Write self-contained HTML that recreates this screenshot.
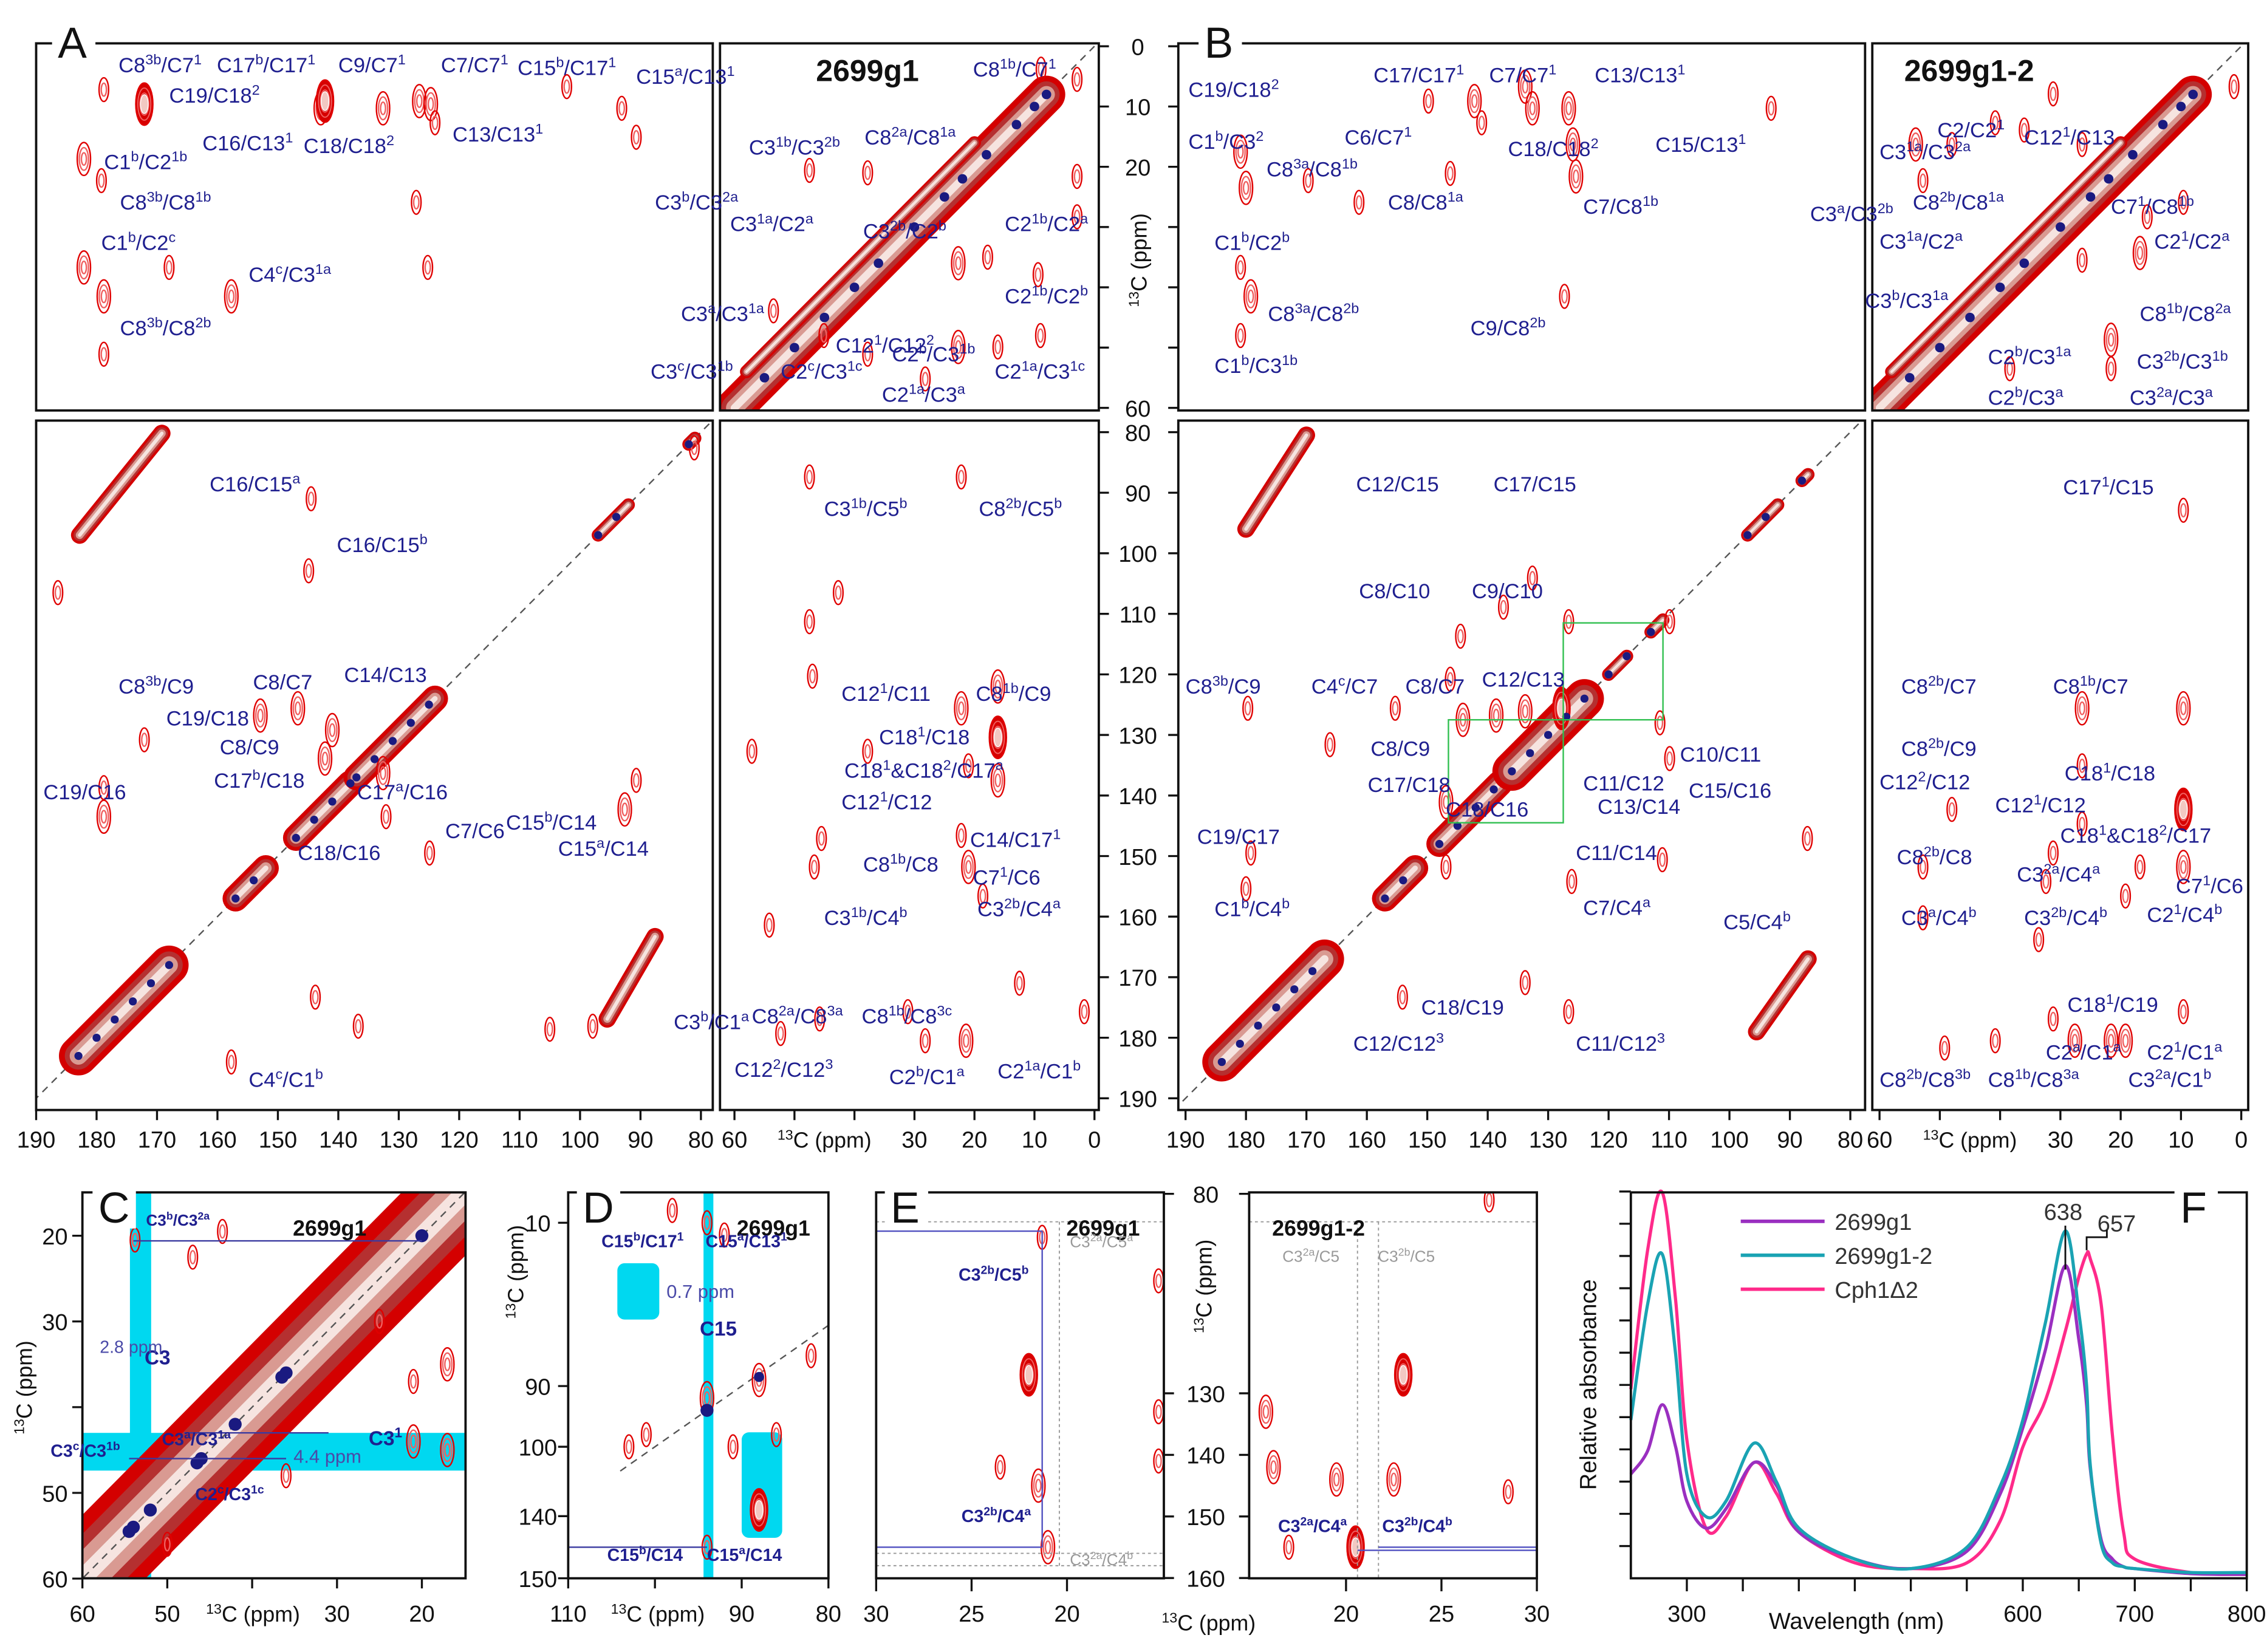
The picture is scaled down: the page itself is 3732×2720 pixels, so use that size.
<!DOCTYPE html>
<html><head><meta charset="utf-8"><title>NMR figure</title>
<style>html,body{margin:0;padding:0;background:#fff}svg{display:block}</style></head>
<body>
<svg id="fig" xmlns="http://www.w3.org/2000/svg" width="3732" height="2720" viewBox="0 0 1568 1143" preserveAspectRatio="none" font-family="'Liberation Sans', sans-serif">
<rect x="0" y="0" width="1568" height="1143" fill="#fff"/>
</svg>
<script>
// ===== DATA =====
const aTLPeaks=[[178.8,7.2,1],[172.1,9.6,3],[182.1,18.7,2],[179.2,22.3,1],[182.1,36.7,2],[178.8,41.5,2],[178.8,51.1,1],[168,36.7,1],[157.7,41.5,2],[142.9,10.3,2],[142.2,9.1,3],[132.6,10.3,2],[126.6,9.1,2],[124.7,9.6,2],[124,12.7,1],[102.2,6.7,1],[93.1,10.3,1],[90.7,15.1,1],[127.1,25.9,1],[125.2,36.7,1]];
const aTRPeaks=[[47.5,20.6,1],[53.5,43.9,1],[37.8,51.1,1],[28.2,55.2,1],[22.7,49.9,2],[22.7,36,2],[17.8,35,1],[16.1,49.9,1],[2.9,21.6,1],[2.9,28.3,1],[9.4,37.9,1],[9,48,1],[45.1,48,1],[8.9,3.8,1],[2.9,5.5,1],[37.8,21,1]];
const aDiagDots=[55,50,45,40,36,30,25,22,18,13,10,8];
const aBLPeaks=[[152.9,126.8,2],[146.7,125.6,2],[141,129.2,2],[142.2,133.9,2],[172.1,130.8,1],[178.8,138.7,1],[178.8,143.5,2],[132.6,136.3,2],[132.1,143.5,1],[124.9,149.5,1],[92.6,142.3,2],[186.4,106.5,1],[144.5,91,1],[144.9,102.9,1],[143.8,173.3,1],[157.7,184,1],[136.7,178.1,1],[105,178.6,1],[97.9,178.1,1],[81.1,82.6,1],[90.7,137.5,1]];
const aBLDiag=[[183,168,3],[157,152,2],[147,138,2],[137,124,2],[97,92,1],[82,81,1]];
const aBLStreaks=[[182.8,97,169.2,80.2],[95.5,176.9,87.6,163.3]];
const aBRPeaks=[[47.5,87.4,1],[22.2,87.4,1],[22.2,125.6,2],[16.1,122,2],[16.1,130.4,3],[16.1,137.5,2],[21,135.1,1],[22.2,146.6,1],[21,151.8,2],[18.6,156.6,1],[45.5,147.1,1],[46.7,151.8,1],[54.2,161.4,1],[52.3,179.3,1],[45.8,176.9,1],[31.1,175.7,1],[28.2,180.5,1],[21.4,180.5,2],[12.5,171,1],[1.7,175.7,1],[57.1,132.7,1],[47,120.3,1],[37.8,132.7,1],[47.5,111.3,1],[42.7,106.5,1]];
const bTLPeaks=[[180.9,17.5,2],[180,23.5,2],[180.9,36.7,1],[179.2,41.5,2],[180.9,48,1],[149.8,9.1,1],[142.2,9.1,2],[141,12.7,1],[133.8,6.7,2],[132.6,10.3,2],[126.6,10.3,2],[125.9,16.3,2],[125.4,21.6,2],[146.2,21.1,1],[127.3,41.5,1],[93.1,10.3,1],[161.3,25.9,1],[169.7,22.3,1]];
const bTRPeaks=[[26.4,35.5,1],[21.6,48.7,2],[21.6,53.5,1],[15.6,28.3,1],[16.8,34.3,2],[9.6,25.9,1],[26.4,16.3,1],[48,16.3,1],[40.8,12.7,1],[36,13.9,1],[31.2,7.9,1],[54,16.3,2],[52.8,22.3,1],[38.4,53.5,1],[1.2,6.7,1]];
const bBLPeaks=[[126.6,111.3,1],[109.9,111.3,1],[127.8,125.6,3],[133.8,126.1,2],[138.6,126.8,2],[144.1,127.5,2],[146.2,120.8,1],[144.5,113.7,1],[155.3,125.6,1],[179.7,125.6,1],[166.1,131.6,1],[111.5,128,1],[109.9,133.9,1],[126.1,154.2,1],[111.1,150.6,1],[87.1,147.1,1],[133.8,170.9,1],[126.6,175.7,1],[154.1,173.3,1],[146.9,151.8,1],[146.9,141.1,2],[179.2,149.5,1],[180,155.4,1],[137.4,108.9,1],[132.6,104.1,1]];
const bBLDiag=[[184,167,3],[157,152,2],[148,138,2],[136,124,3],[120,117,1],[113,111,1],[97,92,1],[88,87,1]];
const bBLStreaks=[[180,96,170,80.5],[95.5,179,87,167]];
const bBRPeaks=[[9.6,92.9,1],[9.6,125.6,2],[26.4,125.6,2],[26.4,135.1,1],[26.4,144.7,1],[9.6,142.3,3],[9.6,151.8,2],[16.8,151.8,1],[19.2,156.6,1],[52.8,151.8,1],[52.8,160.2,1],[32.4,154.2,1],[31.2,149.5,1],[31.2,176.9,1],[19.2,180.5,2],[27.6,180.5,2],[40.8,180.5,1],[49.2,181.7,1],[9.6,175.7,1],[33.6,163.8,1],[48,142.3,1],[21.6,180.5,2]];
const cPeaks=[[53.8,20.5,1],[47,22.5,1],[43.5,19.5,1],[21,44,2],[17,45,2],[17,35,2],[21,37,1],[36,48,1],[50,56,1],[25,30,1]];
const cDiagDots=[54.5,54,52,46.5,46,42,36.5,36,20];
const dPeaks=[[94,10,1],[94,92,2],[94,145,1],[88,89,2],[82,85,1],[101,98,1],[103,100,1],[98,8,1],[107,8,1],[91,100,1],[86,98,1],[88,139,3],[92,12,1]];
const eLeftPeaks=[[22,127,3],[21.3,87,1],[21.5,145,2],[23.5,142,1],[21,155,2],[15.2,94,1],[15.2,133,1],[15.2,141,1]];
const eRightPeaks=[[23,127,3],[15.8,133,2],[16.2,142,2],[19.5,144,2],[22.5,144,2],[20.5,155,3],[17,155,1],[28.5,146,1],[27.5,81,1]];
const wavelengths=[250,265,278,290,300,317,335,360,380,400,450,500,550,580,600,620,638,650,657,660,670,680,690,700,750,800];
const absG1=[.27,.33,.45,.34,.2,.13,.18,.30,.24,.12,.05,.025,.07,.22,.39,.59,.81,.62,.45,.29,.1,.05,.03,.025,.012,.01];
const absG12=[.41,.71,.84,.58,.27,.16,.2,.35,.25,.13,.05,.025,.08,.24,.41,.66,.9,.69,.5,.3,.09,.04,.03,.025,.015,.015];
const absCph=[.49,.85,1.0,.72,.36,.13,.16,.30,.22,.12,.04,.025,.04,.15,.34,.46,.64,.78,.84,.83,.71,.37,.12,.05,.015,.01];
const fXTicks=[300,600,700,800];
const seriesNames=["2699g1","2699g1-2","Cph1\u03942"];

// ===== helpers =====
const NS="http://www.w3.org/2000/svg";
const svg=document.getElementById("fig");
function mk(tag,attrs,parent){const e=document.createElementNS(NS,tag);for(const k in attrs)e.setAttribute(k,attrs[k]);(parent||svg).appendChild(e);return e;}
const BLUE="#1f1f8f",RED="#e00000";

const aXL=p=>25+(190-p)*4.18, aXR=p=>508+(60-p)*4.15;
const yTop=p=>32+p*4.17, yBot=p=>299+(p-80)*4.19;
const bXL=p=>820+(190-p)*4.18, bXR=p=>1300+(60-p)*4.17;
const cX=p=>57+(60-p)*5.87, cY=p=>855+(p-20)*5.93;
const dX=p=>393+(110-p)*6;
const dY=p=>p<50?846+(p-10)*4.25:(p<120?959+(p-90)*4.2:1049+(p-140)*4.3);
const e1X=p=>606+(30-p)*13.2, e2X=p=>931+(p-20)*13.2;
const eY=p=>p<110?826+(p-80)*4.3:964+(p-130)*4.26;
const fX=w=>1128+(w-250)/550*426, fY=v=>1092-v*267;

let clipId=0;
function clipGroup(x,y,w,h,name){
  const cp=mk("clipPath",{id:"cp"+(++clipId)});
  mk("rect",{x:x,y:y,width:w,height:h},cp);
  const g=mk("g",{"clip-path":"url(#cp"+clipId+")"});
  
  
  return g;
}
function frame(x,y,w,h,name){
  const r=mk("rect",{x:x,y:y,width:w,height:h,fill:"none",stroke:"#111","stroke-width":1.6});
  
  
}
function peak(g,x,y,s){
  const grp=mk("g",{},g);
  
  
  const rx=2+s*1.3, ry=5+s*3.2;
  for(let i=0;i<s+1;i++){
    const f=1-i/(s+1.2);
    mk("ellipse",{cx:x,cy:y,rx:rx*f,ry:ry*f,fill:i===0&&s>=3?"#d60000":"none",stroke:i===0?RED:"#f06060","stroke-width":s>=3&&i>0?0.8:1},grp);
  }
  if(s>=3) mk("ellipse",{cx:x,cy:y,rx:rx*0.45,ry:ry*0.45,fill:"#f2c8c2",stroke:"#fff","stroke-width":0.6},grp);
}
function band(g,x1,y1,x2,y2,w,name){
  const grp=mk("g",{},g);
  
  
  mk("line",{x1:x1,y1:y1,x2:x2,y2:y2,stroke:"#d40000","stroke-width":w,"stroke-linecap":"round"},grp);
  mk("line",{x1:x1,y1:y1,x2:x2,y2:y2,stroke:"#b53030","stroke-width":w*0.7,"stroke-linecap":"round"},grp);
  mk("line",{x1:x1,y1:y1,x2:x2,y2:y2,stroke:"#d99a92","stroke-width":w*0.45,"stroke-linecap":"round"},grp);
  mk("line",{x1:x1,y1:y1,x2:x2,y2:y2,stroke:"#f6e4e0","stroke-width":w*0.2,"stroke-linecap":"round"},grp);
}
function diagLine(g,x1,y1,x2,y2){
  const l=mk("line",{x1:x1,y1:y1,x2:x2,y2:y2,stroke:"#555","stroke-width":1,"stroke-dasharray":"5,4"},g);
  
  
}
function dot(g,x,y,r){
  const c=mk("circle",{cx:x,cy:y,r:r||3.3,fill:"#1a1a80"},g);
  
  
}
function label(str,x,y,opt){
  opt=opt||{};
  const t=mk("text",{x:x,y:y,"font-size":opt.size||14.5,fill:opt.color||BLUE,"font-weight":opt.bold?"bold":"normal","text-anchor":opt.anchor||"start"});
  
  
  let i=0,buf="",sup=false;
  const flush=()=>{if(!buf)return;const ts=mk("tspan",{},t);if(sup){ts.setAttribute("font-size","68%");ts.setAttribute("baseline-shift","super");}ts.textContent=buf;buf="";};
  while(i<str.length){const ch=str[i];
    if(ch==="^"){flush();sup=true;}
    else if(sup&&(ch==="/"||ch==="&"||ch===" ")){flush();sup=false;buf+=ch;}
    else buf+=ch; i++;}
  flush();
  return t;
}
function bigLetter(ch,x,y){
  const r=mk("rect",{x:x-4,y:y-26,width:30,height:30,fill:"#fff"});
  
  
  const t=mk("text",{x:x,y:y,"font-size":30,fill:"#111"});
  
  
  t.textContent=ch;
}
function txt(s,x,y,size,opts){
  opts=opts||{};
  const t=mk("text",{x:x,y:y,"font-size":size,fill:opts.color||"#111","text-anchor":opts.anchor||"middle","font-weight":opts.bold?"bold":"normal"});
  if(opts.rot) t.setAttribute("transform","rotate(-90 "+x+" "+y+")");
  
  
  t.textContent=s;return t;
}
function tick(x1,y1,x2,y2,w){
  const l=mk("line",{x1:x1,y1:y1,x2:x2,y2:y2,stroke:"#111","stroke-width":w||1.4});
  
  
}

// ===== PANEL A & B =====
function nmrPanel(P){
  let g=clipGroup(P.x0,30,P.xm-P.x0,254,P.id+'-top-left-region');
  P.tl.forEach(p=>peak(g,P.xL(p[0]),yTop(p[1]),p[2]));
  g=clipGroup(P.xm+5,30,P.x1-P.xm-5,254,P.id+'-top-right-region');
  diagLine(g,P.xR(62),yTop(62),P.xR(0),yTop(0));
  band(g,P.xR(60),yTop(60),P.xR(8),yTop(8),26,'diagonal-band');
  band(g,P.xR(58),yTop(54),P.xR(20),yTop(16),9,'diagonal-band-secondary');
  P.tr.forEach(p=>peak(g,P.xR(p[0]),yTop(p[1]),p[2]));
  P.dd.forEach(v=>dot(g,P.xR(v),yTop(v)));
  g=clipGroup(P.x0,291,P.xm-P.x0,477,P.id+'-bottom-left-region');
  diagLine(g,P.xL(192),yBot(192),P.xL(78),yBot(78));
  P.bld.forEach(s=>band(g,P.xL(s[0]),yBot(s[0]),P.xL(s[1]),yBot(s[1]),s[2]*9,'diagonal-band'));
  P.bls.forEach(s=>band(g,P.xL(s[0]),yBot(s[1]),P.xL(s[2]),yBot(s[3]),12,'off-diagonal-streak'));
  P.bl.forEach(p=>peak(g,P.xL(p[0]),yBot(p[1]),p[2]));
  P.bld.forEach(s=>{for(let v=s[0];v>=s[1];v-=3)dot(g,P.xL(v),yBot(v),2.8);});
  g=clipGroup(P.xm+5,291,P.x1-P.xm-5,477,P.id+'-bottom-right-region');
  P.br.forEach(p=>peak(g,P.xR(p[0]),yBot(p[1]),p[2]));
  frame(P.x0,30,P.xm-P.x0,254,P.id+'-frame-tl');
  frame(P.xm+5,30,P.x1-P.xm-5,254,P.id+'-frame-tr');
  frame(P.x0,291,P.xm-P.x0,477,P.id+'-frame-bl');
  frame(P.xm+5,291,P.x1-P.xm-5,477,P.id+'-frame-br');
  for(let v=190;v>=80;v-=10){const x=P.xL(v);if(x>P.xm+1)continue;tick(x,768,x,775);txt(String(v),x,794,16,{name:'x-tick-label'});}
  for(let v=60;v>=0;v-=10){const x=P.xR(v);tick(x,768,x,775);if(v===50||v===40)continue;txt(String(v),x,794,16,{name:'x-tick-label'});}
  const xt=txt("",P.xR(45),794,15,{name:'x-axis-title'});
  const s1=mk("tspan",{"font-size":"65%","baseline-shift":"super"},xt);s1.textContent="13";
  const s2=mk("tspan",{},xt);s2.textContent="C (ppm)";
}
const PA={id:'panel-a',x0:25,xm:493,x1:760,xL:aXL,xR:aXR,tl:aTLPeaks,tr:aTRPeaks,dd:aDiagDots,bl:aBLPeaks,bld:aBLDiag,bls:aBLStreaks,br:aBRPeaks};
const PB={id:'panel-b',x0:815,xm:1290,x1:1555,xL:bXL,xR:bXR,tl:bTLPeaks,tr:bTRPeaks,dd:aDiagDots,bl:bBLPeaks,bld:bBLDiag,bls:bBLStreaks,br:bBRPeaks};
nmrPanel(PA);nmrPanel(PB);

[[bXL(146.5),yBot(127.5),bXL(127.5),yBot(144.5)],[bXL(127.5),yBot(111.5),bXL(111),yBot(127.5)]].forEach(r=>{
  const e=mk("rect",{x:r[0],y:r[1],width:r[2]-r[0],height:r[3]-r[1],fill:"none",stroke:"#2fbf4f","stroke-width":1});
  
  
});

for(let v=0;v<=60;v+=10){const y=yTop(v);tick(760,y,767,y);tick(808,y,815,y);if(v>=30&&v<=50)continue;txt(String(v),787,y+6,16,{name:'y-tick-label'});}
for(let v=80;v<=190;v+=10){const y=yBot(v);tick(760,y,767,y);tick(808,y,815,y);txt(String(v),787,y+6,16,{name:'y-tick-label'});}
(function(){const t=txt("",793,180,15,{rot:true,name:'y-axis-title'});const a=mk("tspan",{"font-size":"65%","baseline-shift":"super"},t);a.textContent="13";const b=mk("tspan",{},t);b.textContent="C (ppm)";})();

txt("2699g1",600,56,21,{bold:true,name:'sample-title'});
txt("2699g1-2",1362,56,21,{bold:true,name:'sample-title'});
bigLetter("A",40,40);bigLetter("B",833,40);

[["C8^3b/C7^1",82,50],["C17^b/C17^1",150,50],["C9/C7^1",234,50],["C7/C7^1",305,50],["C15^b/C17^1",358,52],["C15^a/C13^1",440,58],["C19/C18^2",117,71],["C16/C13^1",140,104],["C18/C18^2",210,106],["C13/C13^1",313,98],["C1^b/C2^1b",72,117],["C8^3b/C8^1b",83,145],["C1^b/C2^c",70,173],["C4^c/C3^1a",172,195],["C8^3b/C8^2b",83,232],
 ["C8^1b/C7^1",673,53],["C8^2a/C8^1a",598,100],["C3^1b/C3^2b",518,107],["C3^b/C3^2a",453,145],["C3^1a/C2^a",505,160],["C3^2b/C2^b",597,165],["C2^1b/C2^a",695,160],["C3^a/C3^1a",471,222],["C2^1b/C2^b",695,210],["C12^1/C12^2",578,244],["C3^c/C3^1b",450,262],["C2^c/C3^1c",540,262],["C2^b/C3^1b",617,250],["C2^1a/C3^1c",688,262],["C2^1a/C3^a",610,278],
 ["C16/C15^a",145,340],["C16/C15^b",233,382],["C8^3b/C9",82,480],["C8/C7",175,477],["C14/C13",238,472],["C19/C18",115,502],["C8/C9",152,522],["C17^b/C18",148,545],["C17^a/C16",247,553],["C19/C16",30,553],["C15^b/C14",350,574],["C15^a/C14",386,592],["C7/C6",308,580],["C18/C16",206,595],["C4^c/C1^b",172,752],
 ["C3^1b/C5^b",570,357],["C8^2b/C5^b",677,357],["C12^1/C11",582,485],["C8^1b/C9",675,485],["C18^1/C18",608,515],["C18^1&C18^2/C17^a",584,538],["C12^1/C12",582,560],["C14/C17^1",671,586],["C8^1b/C8",597,603],["C7^1/C6",673,612],["C3^2b/C4^a",676,634],["C3^1b/C4^b",570,640],["C8^2a/C8^3a",520,708],["C8^1b/C8^3c",596,708],["C3^b/C1^a",466,712],["C12^2/C12^3",508,745],["C2^b/C1^a",615,750],["C2^1a/C1^b",690,746]
].forEach(l=>label(l[0],l[1],l[2]));
[["C19/C18^2",822,67],["C17/C17^1",950,57],["C7/C7^1",1030,57],["C13/C13^1",1103,57],["C6/C7^1",930,100],["C18/C18^2",1043,108],["C15/C13^1",1145,105],["C1^b/C3^2",822,103],["C8^3a/C8^1b",876,122],["C8/C8^1a",960,145],["C7/C8^1b",1095,148],["C1^b/C2^b",840,173],["C8^3a/C8^2b",877,222],["C9/C8^2b",1017,232],["C1^b/C3^1b",840,258],
 ["C2/C2^1",1340,95],["C12^1/C13",1400,100],["C3^1a/C3^2a",1300,110],["C8^2b/C8^1a",1323,145],["C3^a/C3^2b",1252,153],["C7^1/C8^1b",1460,148],["C3^1a/C2^a",1300,172],["C2^1/C2^a",1490,172],["C3^b/C3^1a",1290,213],["C8^1b/C8^2a",1480,222],["C2^b/C3^1a",1375,252],["C3^2b/C3^1b",1478,255],["C2^b/C3^a",1375,280],["C3^2a/C3^a",1473,280],
 ["C12/C15",938,340],["C17/C15",1033,340],["C8/C10",940,414],["C9/C10",1018,414],["C8^3b/C9",820,480],["C4^c/C7",907,480],["C8/C7",972,480],["C12/C13",1025,475],["C8/C9",948,523],["C10/C11",1162,527],["C17/C18",946,548],["C11/C12",1095,547],["C15/C16",1168,552],["C13/C14",1105,563],["C18/C16",1000,565],["C19/C17",828,584],["C11/C14",1090,595],["C7/C4^a",1095,633],["C1^b/C4^b",840,634],["C5/C4^b",1192,643],["C18/C19",983,702],["C12/C12^3",936,727],["C11/C12^3",1090,727],
 ["C17^1/C15",1427,342],["C8^2b/C7",1315,480],["C8^1b/C7",1420,480],["C8^2b/C9",1315,523],["C18^1/C18",1428,540],["C12^2/C12",1300,546],["C12^1/C12",1380,562],["C18^1&C18^2/C17",1425,583],["C8^2b/C8",1312,598],["C7^1/C6",1505,618],["C3^2a/C4^a",1395,610],["C3^a/C4^b",1315,640],["C3^2b/C4^b",1400,640],["C2^1/C4^b",1485,638],["C18^1/C19",1430,700],["C2^a/C1^a",1415,733],["C2^1/C1^a",1485,733],["C8^2b/C8^3b",1300,752],["C8^1b/C8^3a",1375,752],["C3^2a/C1^b",1472,752]
].forEach(l=>label(l[0],l[1],l[2]));

// ===== PANEL C =====
(function(){
  const g=clipGroup(57,825,265,267,'panel-c-plot');
  let r=mk("rect",{x:cX(54.4),y:825,width:cX(51.9)-cX(54.4),height:267,fill:"#00d8f0"},g);
  
  r=mk("rect",{x:57,y:cY(43),width:265,height:cY(47.4)-cY(43),fill:"#00d8f0"},g);
  
  band(g,cX(64),cY(64),cX(12),cY(12),62,'diagonal-band');
  diagLine(g,cX(62),cY(62),cX(12),cY(12));
  cPeaks.forEach(p=>peak(g,cX(p[0]),cY(p[1]),p[2]));
  cDiagDots.forEach(v=>dot(g,cX(v),cY(v),4.5));
  [[cX(54),cY(20.6),cX(20),cY(20.6)],[cX(54.5),cY(46),cX(36),cY(46)],[cX(48),cY(43),cX(31),cY(43)]].forEach(l=>{const e=mk("line",{x1:l[0],y1:l[1],x2:l[2],y2:l[3],stroke:"#3a3aa0","stroke-width":1},g);});
  frame(57,825,265,267,'panel-c-frame');
  for(let v=60;v>=20;v-=10){const x=cX(v);tick(x,1092,x,1099);if(v!==40)txt(String(v),x,1122,16,{name:'x-tick-label'});}
  for(let v=20;v<=60;v+=10){const y=cY(v);tick(50,y,57,y);if(v!==40)txt(String(v),38,y+6,16,{name:'y-tick-label'});}
  const t=txt("",175,1122,15,{name:'x-axis-title'});const a=mk("tspan",{"font-size":"65%","baseline-shift":"super"},t);a.textContent="13";const b=mk("tspan",{},t);b.textContent="C (ppm)";
  const t2=txt("",22,960,15,{rot:true,name:'y-axis-title'});const a2=mk("tspan",{"font-size":"65%","baseline-shift":"super"},t2);a2.textContent="13";const b2=mk("tspan",{},t2);b2.textContent="C (ppm)";
  bigLetter("C",68,846);
  txt("2699g1",228,855,15,{bold:true,name:'sample-title'});
  label("C3^b/C3^2a",101,848,{size:11,bold:true});
  label("C3",100,944,{size:14,bold:true});
  label("2.8 ppm",69,936,{size:12,color:"#4a4aa8"});
  label("C3^a/C3^1a",112,1000,{size:12,bold:true});
  label("C3^c/C3^1b",35,1008,{size:12,bold:true});
  label("C3^1",255,1000,{size:14,bold:true});
  label("4.4 ppm",203,1012,{size:13,color:"#4a4aa8"});
  label("C2^c/C3^1c",135,1038,{size:12,bold:true});
})();

// ===== PANEL D =====
(function(){
  const g=clipGroup(393,825,180,267,'panel-d-plot');
  let r=mk("rect",{x:dX(94.4),y:825,width:dX(93.6)-dX(94.4)+2,height:267,fill:"#00d8f0"},g);
  
  r=mk("rect",{x:427,y:874,width:29,height:39,rx:5,fill:"#00d8f0"},g);
  
  r=mk("rect",{x:513,y:991,width:28,height:73,rx:5,fill:"#00d8f0"},g);
  
  diagLine(g,dX(104),dY(104),dX(78),dY(78));
  dPeaks.forEach(p=>peak(g,dX(p[0]),dY(p[1]),p[2]));
  dot(g,dX(94),dY(94),4.5);dot(g,dX(88),dY(88.5),3.5);
  const e=mk("line",{x1:393,y1:dY(145),x2:dX(94),y2:dY(145),stroke:"#3a3aa0","stroke-width":1},g);
  
  frame(393,825,180,267,'panel-d-frame');
  [110,100,90,80].forEach(v=>{const x=dX(v);tick(x,1092,x,1099);if(v!==100)txt(String(v),x,1122,16,{name:'x-tick-label'});});
  [10,90,100,140,150].forEach(v=>{const y=dY(v);tick(386,y,393,y);txt(String(v),372,y+6,16,{name:'y-tick-label'});});
  const t=txt("",455,1122,15,{name:'x-axis-title'});const a=mk("tspan",{"font-size":"65%","baseline-shift":"super"},t);a.textContent="13";const b=mk("tspan",{},t);b.textContent="C (ppm)";
  const t2=txt("",362,880,15,{rot:true,name:'y-axis-title'});const a2=mk("tspan",{"font-size":"65%","baseline-shift":"super"},t2);a2.textContent="13";const b2=mk("tspan",{},t2);b2.textContent="C (ppm)";
  bigLetter("D",403,846);
  txt("2699g1",535,855,15,{bold:true,name:'sample-title'});
  label("C15^b/C17^1",416,863,{size:12,bold:true});
  label("C15^a/C13^1",488,863,{size:12,bold:true});
  label("0.7 ppm",461,898,{size:13,color:"#4a4aa8"});
  label("C15",484,924,{size:14,bold:true});
  label("C15^b/C14",420,1080,{size:12,bold:true});
  label("C15^a/C14",489,1080,{size:12,bold:true});
})();

// ===== PANEL E =====
(function(){
  let g=clipGroup(606,825,199,267,'panel-e-left-plot');
  eLeftPeaks.forEach(p=>peak(g,e1X(p[0]),eY(p[1]),p[2]));
  [[606,eY(86),e1X(21.3),eY(86)],[e1X(21.3),eY(86),e1X(21.3),eY(155)],[606,eY(155),e1X(21.3),eY(155)]].forEach(l=>{const e=mk("line",{x1:l[0],y1:l[1],x2:l[2],y2:l[3],stroke:"#5050c0","stroke-width":1},g);});
  [[606,eY(84.5),805,eY(84.5)],[e1X(20.4),eY(84.5),e1X(20.4),eY(158)],[606,eY(156),805,eY(156)],[606,eY(158),805,eY(158)]].forEach(l=>{const e=mk("line",{x1:l[0],y1:l[1],x2:l[2],y2:l[3],stroke:"#999","stroke-width":0.8,"stroke-dasharray":"2,2"},g);});
  frame(606,825,199,267,'panel-e-left-frame');
  g=clipGroup(864,825,199,267,'panel-e-right-plot');
  eRightPeaks.forEach(p=>peak(g,e2X(p[0]),eY(p[1]),p[2]));
  [[e2X(20.6),eY(84.5),e2X(20.6),1092],[e2X(21.7),eY(84.5),e2X(21.7),1092],[864,eY(84.5),1063,eY(84.5)]].forEach(l=>{const e=mk("line",{x1:l[0],y1:l[1],x2:l[2],y2:l[3],stroke:"#999","stroke-width":0.8,"stroke-dasharray":"2,2"},g);});
  [[e2X(21.7),eY(155),1063,eY(155)],[e2X(20.6),eY(155.5),1063,eY(155.5)]].forEach(l=>{const e=mk("line",{x1:l[0],y1:l[1],x2:l[2],y2:l[3],stroke:"#5050c0","stroke-width":1},g);});
  frame(864,825,199,267,'panel-e-right-frame');
  [30,25,20].forEach(v=>{const x=e1X(v);tick(x,1092,x,1101);txt(String(v),x,1122,16,{name:'x-tick-label'});});
  [20,25,30].forEach(v=>{const x=e2X(v);tick(x,1092,x,1101);txt(String(v),x,1122,16,{name:'x-tick-label'});});
  [80,130,140,150,160].forEach(v=>{const y=eY(v);tick(805,y,812,y);tick(857,y,864,y);txt(String(v),834,y+6,16,{name:'y-tick-label'});});
  const t=txt("",836,1128,15,{name:'x-axis-title'});const a=mk("tspan",{"font-size":"65%","baseline-shift":"super"},t);a.textContent="13";const b=mk("tspan",{},t);b.textContent="C (ppm)";
  const t2=txt("",838,890,15,{rot:true,name:'y-axis-title'});const a2=mk("tspan",{"font-size":"65%","baseline-shift":"super"},t2);a2.textContent="13";const b2=mk("tspan",{},t2);b2.textContent="C (ppm)";
  bigLetter("E",616,846);
  txt("2699g1",763,855,15,{bold:true,name:'sample-title'});
  txt("2699g1-2",912,855,15,{bold:true,name:'sample-title'});
  label("C3^2b/C5^b",663,886,{size:12,bold:true});
  label("C3^2a/C5^a",740,863,{size:11,color:"#999"});
  label("C3^2b/C4^a",665,1053,{size:12,bold:true});
  label("C3^2a/C4^b",740,1083,{size:11,color:"#999"});
  label("C3^2a/C5",887,873,{size:11,color:"#999"});
  label("C3^2b/C5",953,873,{size:11,color:"#999"});
  label("C3^2a/C4^a",884,1060,{size:12,bold:true});
  label("C3^2b/C4^b",956,1060,{size:12,bold:true});
})();

// ===== PANEL F =====
(function(){
  const colors=["#9a2fc0","#1aa3b3","#ff2a8a"];
  const series=[absG1,absG12,absCph];
  const g=mk("g",{});
  
  
  function pathFor(vals){
    const pts=wavelengths.map((w,i)=>[fX(w),fY(vals[i])]);
    let d="M"+pts[0][0].toFixed(1)+","+pts[0][1].toFixed(1);
    for(let i=0;i<pts.length-1;i++){
      const p0=pts[Math.max(0,i-1)],p1=pts[i],p2=pts[i+1],p3=pts[Math.min(pts.length-1,i+2)];
      const c1=[p1[0]+(p2[0]-p0[0])/6,p1[1]+(p2[1]-p0[1])/6],c2=[p2[0]-(p3[0]-p1[0])/6,p2[1]-(p3[1]-p1[1])/6];
      d+=" C"+c1[0].toFixed(1)+","+c1[1].toFixed(1)+" "+c2[0].toFixed(1)+","+c2[1].toFixed(1)+" "+p2[0].toFixed(1)+","+p2[1].toFixed(1);
    }
    return d;
  }
  [2,0,1].forEach(i=>{
    const p=mk("path",{d:pathFor(series[i]),fill:"none",stroke:colors[i],"stroke-width":2.2},g);
    
    
  });
  const fr=mk("path",{d:"M1128,825 L1128,1092 L1554,1092 L1554,825 L1128,825",fill:"none",stroke:"#111","stroke-width":1.6});
  
  
  for(let w=300;w<=800;w+=50){const x=fX(w);tick(x,1092,x,1101);}
  fXTicks.forEach(w=>txt(String(w),fX(w),1122,16,{name:'x-tick-label'}));
  for(let k=1;k<=12;k++){const y=1092-k*22.3;tick(1120,y,1128,y);}
  txt("Wavelength (nm)",1284,1127,16,{name:'x-axis-title'});
  txt("Relative absorbance",1104,958,16,{rot:true,name:'y-axis-title'});
  seriesNames.forEach((n,i)=>{
    const y=845+i*23.5;
    const l=mk("line",{x1:1204,y1:y,x2:1262,y2:y,stroke:colors[i],"stroke-width":2.4});
    
    
    txt(n,1269,y+6,16,{anchor:"start",name:'legend-entry',color:"#333"});
  });
  txt("638",1427,844,16,{name:'peak-annotation',color:"#333"});
  txt("657",1464,852,16,{name:'peak-annotation',color:"#333"});
  const a1=mk("line",{x1:fX(638),y1:848,x2:fX(638),y2:fY(0.8),stroke:"#111","stroke-width":1.2});
  
  const a2=mk("path",{d:"M"+fX(657)+","+fY(0.85)+" L"+fX(657)+",856 L"+(fX(657)+14)+",856 L"+(fX(657)+14)+",851",fill:"none",stroke:"#111","stroke-width":1.2});
  
  bigLetter("F",1508,846);
})();
</script>
</body></html>
